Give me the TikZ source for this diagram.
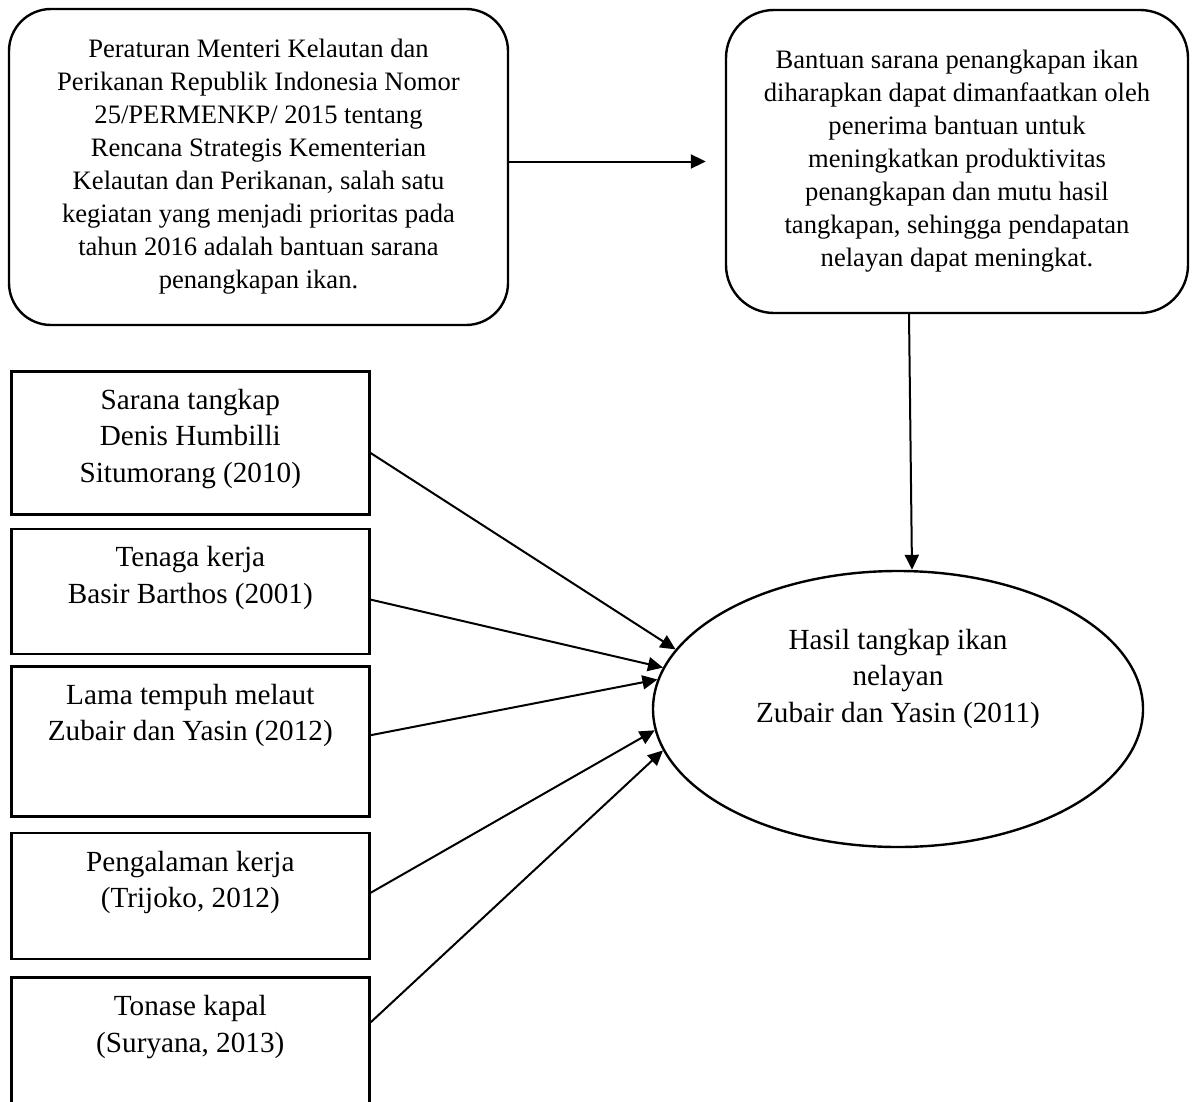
\documentclass[tikz,border=0pt]{standalone}
\usepackage{fontspec}
\setmainfont{Liberation Serif}
\usetikzlibrary{shapes.geometric,arrows.meta,positioning}

\begin{document}
\begin{tikzpicture}[x=0.5pt, y=-0.5pt,
      kotakbulat/.style = {shape=rectangle, draw, line width=1.2pt,
        align=center, inner sep=0pt, font=\fontsize{13.3}{16.5}\selectfont},
      kotak/.style = {shape=rectangle, draw, line width=1.3pt, align=flush center,
        text width=179pt, inner sep=0pt, text height=19pt,
        font=\fontsize{14.6}{18.2}\selectfont},
      elips/.style = {shape=ellipse, draw, line width=1.2pt, align=center,
        inner sep=0pt, font=\fontsize{14.6}{18.2}\selectfont},
      panah/.style = {-{Triangle[length=7.5pt,width=7pt]}, line width=1pt}]
  \useasboundingbox (0,0) rectangle (1193,1102);

  \node[kotakbulat, rounded corners=21pt, minimum width=249.5pt, minimum height=158pt]
    (peraturan) at (258.5,167)
    {Peraturan Menteri Kelautan dan\\Perikanan Republik Indonesia Nomor\\
     25/PERMENKP/ 2015 tentang\\Rencana Strategis Kementerian\\
     Kelautan dan Perikanan, salah satu\\kegiatan yang menjadi prioritas pada\\
     tahun 2016 adalah bantuan sarana\\penangkapan ikan.};
  \node[kotakbulat, rounded corners=24pt, minimum width=231pt, minimum height=151.5pt]
    (bantuan) at (957,161.5)
    {Bantuan sarana penangkapan ikan\\diharapkan dapat dimanfaatkan oleh\\
     penerima bantuan untuk\\meningkatkan produktivitas\\
     penangkapan dan mutu hasil\\tangkapan, sehingga pendapatan\\
     nelayan dapat meningkat.};

  % faktor-faktor
  \node[kotak, text depth=52.5pt, anchor=north west] (sarana) at (10,370)
    {Sarana tangkap\\Denis Humbilli\\Situmorang (2010)};
  \node[kotak, text depth=43.5pt, below=6pt of sarana] (tenaga)
    {Tenaga kerja\\Basir Barthos (2001)};
  \node[kotak, text depth=56pt, below=5pt of tenaga] (lama)
    {Lama tempuh melaut\\Zubair dan Yasin (2012)};
  \node[kotak, text depth=44pt, below=7pt of lama] (pengalaman)
    {Pengalaman kerja\\(Trijoko, 2012)};
  \node[kotak, text depth=47.5pt, below=8pt of pengalaman] (tonase)
    {Tonase kapal\\(Suryana, 2013)};

  \node[elips, minimum width=245pt, minimum height=138pt, text height=50pt,
    text depth=37pt] (hasil) at (898,709)
    {Hasil tangkap ikan\\nelayan\\Zubair dan Yasin (2011)};

  \draw[panah] (peraturan.east |- bantuan.west) -- ([xshift=-9.5pt]bantuan.west);
  \draw[panah] ([xshift=-24pt]bantuan.south) -- ([xshift=7pt]hasil.north);
  \draw[panah] ([yshift=-41.5pt]sarana.north east) -- (hasil.165.8);
  \draw[panah] ([yshift=-36pt]tenaga.north east) -- (hasil.170.1);
  \draw[panah] ([yshift=-35pt]lama.north east) -- (hasil.173.8);
  \draw[panah] ([yshift=-30.5pt]pengalaman.north east) -- (hasil.185.3);
  \draw[panah] ([yshift=-23pt]tonase.north east) -- (hasil.190.2);
\end{tikzpicture}
\end{document}
